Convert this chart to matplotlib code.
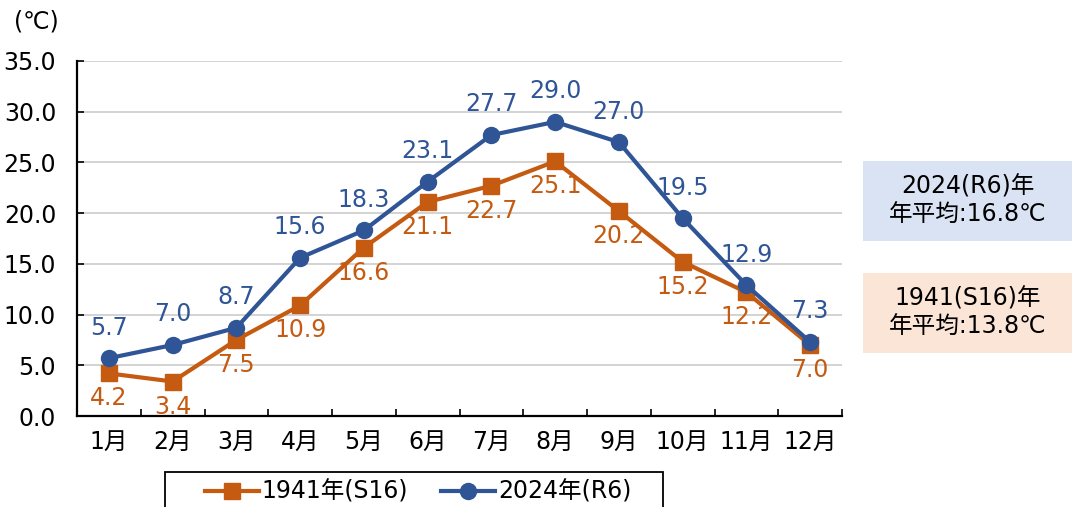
import matplotlib
matplotlib.use("Agg")
import matplotlib.pyplot as plt
from matplotlib.patches import Rectangle

plt.rcParams['font.family'] = ['DejaVu Sans', 'Noto Sans CJK JP']

months = ["1月", "2月", "3月", "4月", "5月", "6月", "7月", "8月", "9月", "10月", "11月", "12月"]
temp_1941 = [4.2, 3.4, 7.5, 10.9, 16.6, 21.1, 22.7, 25.1, 20.2, 15.2, 12.2, 7.0]
temp_2024 = [5.7, 7.0, 8.7, 15.6, 18.3, 23.1, 27.7, 29.0, 27.0, 19.5, 12.9, 7.3]
label_1941 = "1941年(S16)"
label_2024 = "2024年(R6)"
avg_2024_text = "2024(R6)年\n年平均:16.8℃"
avg_1941_text = "1941(S16)年\n年平均:13.8℃"
yticks = [0, 5, 10, 15, 20, 25, 30, 35]

orange = "#C55A11"
blue = "#2F5597"
FS = 17

fig = plt.figure(figsize=(10.72, 5.07), dpi=100)
ax = fig.add_axes([77/1072, 1-416/507, (842-77)/1072, (416-61)/507])

x = list(range(len(months)))
ax.plot(x, temp_1941, color=orange, lw=3, marker='s', ms=11, label=label_1941, zorder=3)
ax.plot(x, temp_2024, color=blue, lw=3, marker='o', ms=11.5, label=label_2024, zorder=4)

for xi, v in zip(x, temp_1941):
    ax.annotate(f"{v:.1f}", (xi, v), xytext=(0, -18), textcoords='offset points',
                ha='center', va='center', color=orange, fontsize=FS)
for xi, v in zip(x, temp_2024):
    ax.annotate(f"{v:.1f}", (xi, v), xytext=(0, 22), textcoords='offset points',
                ha='center', va='center', color=blue, fontsize=FS)

ax.set_xlim(-0.5, len(months) - 0.5)
ax.set_ylim(0, 35)
ax.set_yticks(yticks)
ax.set_yticklabels([f"{t:.1f}" for t in yticks], fontsize=FS)
ax.set_xticks(x)
ax.set_xticklabels(months, fontsize=FS)
ax.set_xticks([i + 0.5 for i in range(-1, len(months))], minor=True)
ax.tick_params(axis='x', which='major', length=0, pad=10)
ax.tick_params(axis='x', which='minor', length=5, direction='in', width=1.2)
ax.tick_params(axis='y', length=5, direction='in', width=1.2, pad=15)
ax.grid(axis='y', color='#D0D0D0', lw=1.3)
ax.set_axisbelow(True)
for s in ['top', 'right']:
    ax.spines[s].set_visible(False)
for s in ['left', 'bottom']:
    ax.spines[s].set_linewidth(1.6)
    ax.spines[s].set_color('black')

fig.text(14/1072, 1-22/507, "(℃)", fontsize=FS, ha='left', va='center')

# average boxes
fig.patches.append(Rectangle((863/1072, 1-241/507), (1072-863)/1072, 80/507,
                             transform=fig.transFigure, facecolor="#DAE3F3", edgecolor='none'))
fig.patches.append(Rectangle((863/1072, 1-353/507), (1072-863)/1072, 80/507,
                             transform=fig.transFigure, facecolor="#FBE5D6", edgecolor='none'))
fig.text(968/1072, 1-201/507, avg_2024_text, fontsize=FS, ha='center', va='center', linespacing=1.25)
fig.text(968/1072, 1-313/507, avg_1941_text, fontsize=FS, ha='center', va='center', linespacing=1.25)

# legend
fig.patches.append(Rectangle((165/1072, -0.05), (663-165)/1072, 0.05 + 1-472/507,
                             transform=fig.transFigure, facecolor='white', edgecolor='black', lw=1.3))
leg = fig.legend(loc='center', bbox_to_anchor=(418/1072, 1-492/507), ncol=2, fontsize=FS,
                 frameon=False, handlelength=2.3, handletextpad=0.1,
                 columnspacing=1.4, borderpad=0.2)

fig.savefig("out.png", dpi=100)
